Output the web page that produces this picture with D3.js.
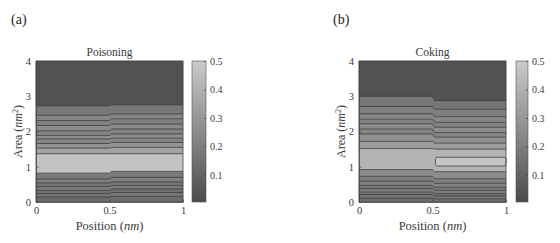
<!DOCTYPE html>
<html>
<head>
<meta charset="utf-8">
<script src="https://cdn.jsdelivr.net/npm/d3@7"></script>
<style>
	body{margin:0;background:#fff;}
	#chart text{font-family:"Liberation Serif","Times New Roman",serif !important;fill:#3a3a3a;}
	.axis path,.axis line{stroke:#444;stroke-width:0.7;}
</style>
</head>
<body>
<svg id="chart" width="560" height="243"></svg>
<script>
//contour lines (area in nm^2), left half and right half of each panel
let poisonLeft  = [0.14, 0.24, 0.33, 0.44, 0.54, 0.65, 0.82, 1.37, 1.53, 1.66, 1.79, 1.89, 2.02, 2.17, 2.31, 2.46, 2.73];
let poisonRight = [0.16, 0.27, 0.37, 0.47, 0.57, 0.70, 0.87, 1.37, 1.55, 1.69, 1.81, 1.93, 2.07, 2.21, 2.36, 2.50, 2.76];
//value of each band, bottom to top
let poisonValues = [0.13, 0.17, 0.15, 0.19, 0.17, 0.21, 0.19, 0.47, 0.34, 0.28, 0.23, 0.26, 0.22, 0.25, 0.21, 0.23, 0.18, 0.03];

let cokeLeft  = [0.11, 0.21, 0.28, 0.38, 0.47, 0.59, 0.73, 0.92, 1.52, 1.72, 1.93, 2.07, 2.22, 2.35, 2.50, 2.71, 3.00];
let cokeRight = [0.09, 0.17, 0.24, 0.33, 0.42, 0.53, 0.66, 0.86, 1.50, 1.67, 1.84, 1.97, 2.12, 2.26, 2.42, 2.63, 2.88];
let cokeValues = [0.14, 0.18, 0.16, 0.20, 0.18, 0.22, 0.20, 0.26, 0.41, 0.32, 0.27, 0.23, 0.26, 0.22, 0.24, 0.20, 0.17, 0.03];
//closed contour on the right half of the coking panel
let cokeIsland = {x0: 0.52, x1: 1, y0: 1.02, y1: 1.27, value: 0.48};

let xTicks = [0, 0.5, 1];
let yTicks = [0, 1, 2, 3, 4];
let cbarTicks = [0.1, 0.2, 0.3, 0.4, 0.5];

let svg = d3.select("#chart");

let color = d3.scaleLinear().domain([0, 0.5]).range(["#4a4a4a", "#cbcbcb"]);

function panel(cfg){

	let g = svg.append("g");

	let xScale = d3.scaleLinear().domain([0, 1]).range([cfg.left, cfg.left + 147]);
	let yScale = d3.scaleLinear().domain([0, 4]).range([202, 61]);

	let xs = [0, 0.5, 0.515, 1];
	let lo = [0].concat(cfg.lineL), hi = cfg.lineL.concat([4]);
	let loR = [0].concat(cfg.lineR), hiR = cfg.lineR.concat([4]);

	let line = d3.line().x(d => xScale(d[0])).y(d => yScale(d[1]));

	//bands
	cfg.values.forEach((v, i) => {
		let pts = [[xs[0], lo[i]], [xs[1], lo[i]], [xs[2], loR[i]], [xs[3], loR[i]],
			[xs[3], hiR[i]], [xs[2], hiR[i]], [xs[1], hi[i]], [xs[0], hi[i]]];
		g.append("path")
			.attr("d", line(pts) + "Z")
			.attr("fill", color(v))
			.attr("stroke", color(v))
			.attr("stroke-width", 0.5);
	});

	//contour lines
	cfg.lineL.forEach((yl, i) => {
		let yr = cfg.lineR[i];
		g.append("path")
			.attr("d", line([[0, yl], [0.5, yl], [0.515, yr], [1, yr]]))
			.attr("fill", "none")
			.attr("stroke", "#3a3a3a")
			.attr("stroke-width", 0.75);
	});

	if (cfg.island){
		let isl = cfg.island;
		g.append("rect")
			.attr("x", xScale(isl.x0))
			.attr("y", yScale(isl.y1))
			.attr("width", xScale(isl.x1) - xScale(isl.x0))
			.attr("height", yScale(isl.y0) - yScale(isl.y1))
			.attr("rx", 2)
			.attr("fill", color(isl.value))
			.attr("stroke", "#3a3a3a")
			.attr("stroke-width", 0.75);
	}

	//axes
	g.append("g")
		.attr("class", "axis")
		.attr("transform", "translate(0,202)")
		.call(d3.axisBottom(xScale).tickValues(xTicks).tickFormat(d3.format("")).tickSizeInner(-2.5).tickSizeOuter(0).tickPadding(5))
		.selectAll("text").attr("font-size", 10.5);

	g.append("g")
		.attr("class", "axis")
		.attr("transform", `translate(${cfg.left},0)`)
		.call(d3.axisLeft(yScale).tickValues(yTicks).tickFormat(d3.format("d")).tickSizeInner(-2.5).tickSizeOuter(0).tickPadding(5))
		.selectAll("text").attr("font-size", 10.5);

	//box
	g.append("rect")
		.attr("x", cfg.left).attr("y", 61)
		.attr("width", 147).attr("height", 141)
		.attr("fill", "none").attr("stroke", "#444").attr("stroke-width", 0.7);

	//title
	g.append("text")
		.attr("x", xScale(0.5)).attr("y", 56)
		.attr("text-anchor", "middle").attr("font-size", 11.5)
		.text(cfg.title);

	//x label
	let xl = g.append("text")
		.attr("x", xScale(0.5)).attr("y", 230)
		.attr("text-anchor", "middle").attr("font-size", 12.5);
	xl.append("tspan").text("Position (");
	xl.append("tspan").attr("font-style", "italic").text("nm");
	xl.append("tspan").text(")");

	//y label
	let yl = g.append("text")
		.attr("transform", `translate(${cfg.left - 14},${yScale(2)}) rotate(-90)`)
		.attr("text-anchor", "middle").attr("font-size", 12);
	yl.append("tspan").text("Area (");
	yl.append("tspan").attr("font-style", "italic").text("nm");
	yl.append("tspan").attr("font-size", 8).attr("dy", -4).text("2");
	yl.append("tspan").attr("dy", 4).text(")");

	//panel letter
	g.append("text")
		.attr("x", cfg.letterX).attr("y", 24)
		.attr("font-size", 14)
		.style("fill", "#222")
		.text(cfg.letter);

	//colorbar
	let cb = d3.scaleLinear().domain([0.005, 0.5]).range([202, 61]);
	let gradId = "grad-" + cfg.letter.replace(/[()]/g, "");
	let grad = svg.append("defs").append("linearGradient")
		.attr("id", gradId).attr("x1", 0).attr("y1", 1).attr("x2", 0).attr("y2", 0);
	grad.append("stop").attr("offset", 0).attr("stop-color", color(0.005));
	grad.append("stop").attr("offset", 1).attr("stop-color", color(0.5));

	g.append("rect")
		.attr("x", cfg.cbarX).attr("y", cb(0.5))
		.attr("width", cfg.cbarW).attr("height", cb(0.005) - cb(0.5))
		.attr("fill", `url(#${gradId})`)
		.attr("stroke", "#555").attr("stroke-width", 0.6);

	g.append("g")
		.attr("class", "axis")
		.attr("transform", `translate(${cfg.cbarX + cfg.cbarW},0)`)
		.call(d3.axisRight(cb).tickValues(cbarTicks).tickFormat(d3.format(".1f")).tickSizeInner(-2).tickSizeOuter(0).tickPadding(4))
		.call(a => a.select(".domain").remove())
		.selectAll("text").attr("font-size", 10);
}

panel({left: 36, title: "Poisoning", letter: "(a)", letterX: 11, cbarX: 192, cbarW: 14,
	lineL: poisonLeft, lineR: poisonRight, values: poisonValues});

panel({left: 359, title: "Coking", letter: "(b)", letterX: 333, cbarX: 516, cbarW: 12,
	lineL: cokeLeft, lineR: cokeRight, values: cokeValues, island: cokeIsland});
</script>
</body>
</html>
